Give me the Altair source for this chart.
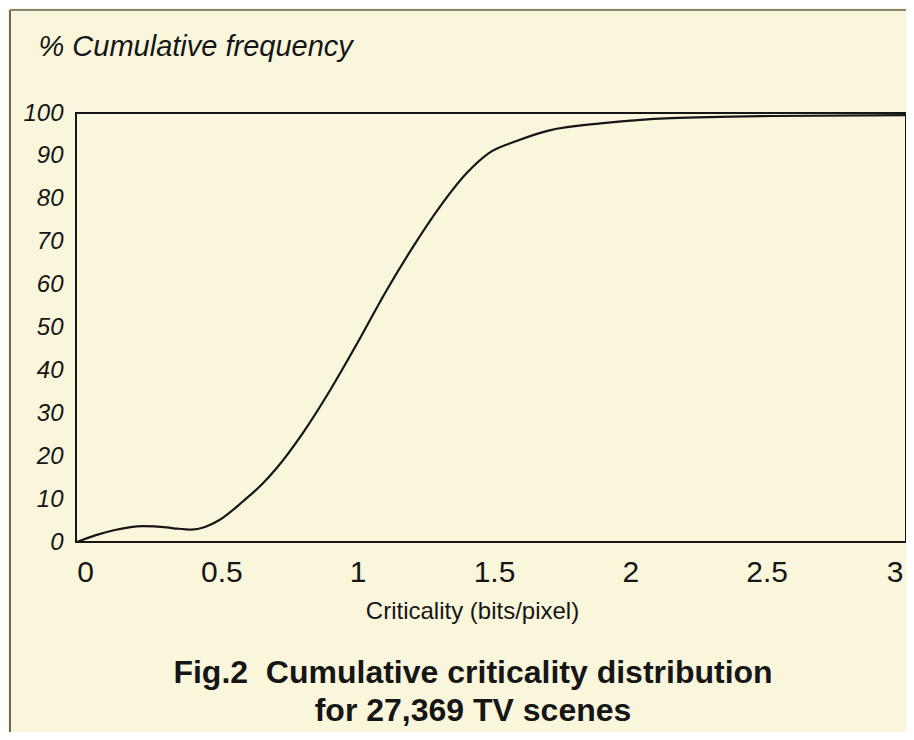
import altair as alt
import pandas as pd

# Values
criticality = [-0.03, 0.04, 0.11, 0.21, 0.30, 0.34, 0.39, 0.44, 0.49, 0.58, 0.65,
               0.70, 0.80, 0.90, 1.00, 1.10, 1.20, 1.30, 1.40, 1.48, 1.58, 1.70,
               1.91, 2.15, 2.52, 3.01]
cum_freq = [0.0, 1.6, 2.8, 3.7, 3.4, 3.1, 2.9, 3.5, 5.0, 9.5, 13.5,
            17.0, 25.5, 35.5, 46.5, 58.0, 68.5, 78.0, 86.0, 90.6, 93.4, 95.9,
            97.7, 98.8, 99.3, 99.5]
x_ticks = [0, 0.5, 1, 1.5, 2, 2.5, 3]
y_ticks = [0, 10, 20, 30, 40, 50, 60, 70, 80, 90, 100]

df = pd.DataFrame({"x": criticality, "y": cum_freq})

FONT = "Liberation Sans"
INK = "#161616"
BG = "#FAF6DC"

line = alt.Chart(df).mark_line(
    interpolate="monotone", color=INK, strokeWidth=2.2
).encode(
    x=alt.X(
        "x:Q",
        scale=alt.Scale(domain=[-0.033, 3.011], nice=False, zero=False),
        axis=alt.Axis(
            values=x_ticks, format="~g", ticks=False, domain=False, grid=False,
            labelFont=FONT, labelFontSize=30, labelColor=INK,
            labelAlign={"condition": {"test": "datum.value === 3", "value": "right"},
                        "value": "center"},
            labelBaseline="middle", labelPadding=30, labelFlush=False,
            title="Criticality (bits/pixel)", titleFont=FONT, titleFontSize=24,
            titleFontWeight="normal", titleColor=INK,
            titleX=396, titleY=69, titleAlign="center", titleBaseline="middle",
        ),
    ),
    y=alt.Y(
        "y:Q",
        scale=alt.Scale(domain=[0, 100], nice=False),
        axis=alt.Axis(
            values=y_ticks, ticks=False, domain=False, grid=False,
            labelFont=FONT, labelFontSize=24, labelFontStyle="italic",
            labelColor=INK, labelBaseline="middle", labelPadding=13,
            labelFlush=False,
            title="% Cumulative frequency", titleFont=FONT, titleFontSize=29,
            titleFontStyle="italic", titleFontWeight="normal", titleColor=INK,
            titleAngle=0, titleAlign="left", titleBaseline="alphabetic",
            titleX=-38, titleY=-58,
        ),
    ),
)

frame_left = alt.Chart(df).mark_rule(color="#6e6a5a", strokeWidth=1.5).encode(
    x=alt.value(-66), y=alt.value(-103), y2=alt.value(627)
)
frame_top = alt.Chart(df).mark_rule(color="#8a8676", strokeWidth=1.2).encode(
    x=alt.value(-66), x2=alt.value(840), y=alt.value(-103)
)

chart = alt.layer(frame_left, frame_top, line).properties(
    width=830,
    height=429,
    autosize=alt.AutoSizeParams(type="none"),
    padding={"left": 68, "top": 105, "right": 0, "bottom": 190},
    background=BG,
    title=alt.Title(
        text=["Fig.2\u00a0\u00a0Cumulative criticality distribution", "for 27,369 TV scenes"],
        orient="bottom", anchor="middle", frame="group",
        font=FONT, fontSize=32, fontWeight="bold", color=INK,
        lineHeight=38, baseline="middle", offset=-68, dx=-18,
    ),
).configure_view(stroke=INK, strokeWidth=2)

chart.save("out.html", embed_options={"renderer": "svg", "actions": False})
